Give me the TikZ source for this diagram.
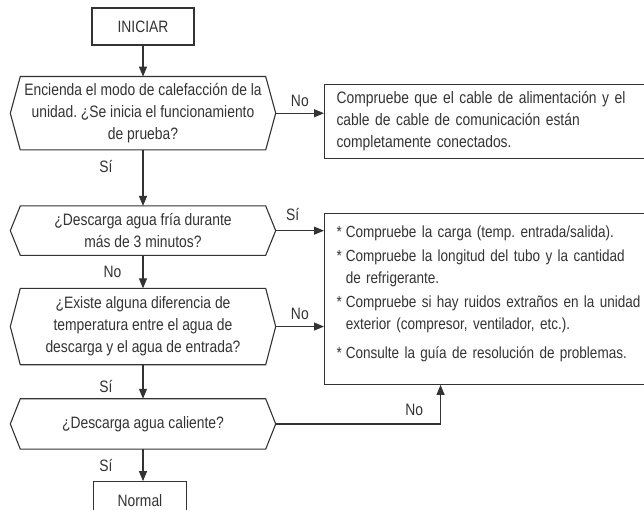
\documentclass[tikz,border=0pt]{standalone}
\usepackage{fontspec}
\setmainfont{Liberation Sans}[FakeStretch=0.84]
\usetikzlibrary{arrows.meta,positioning}
\definecolor{ink}{HTML}{333333}
\frenchspacing

\begin{document}
\begin{tikzpicture}[
    x=1pt, y=-1pt,
    font=\fontsize{16.5}{22}\selectfont,
    every node/.style={text=ink},
    term/.style={draw=ink, line width=1.1pt, minimum width=102pt, minimum height=37pt},
    query/.style={minimum width=265pt, align=center, inner sep=1pt},
    act/.style={draw=ink, line width=1.1pt, anchor=north west, text width=312pt, align=left, inner xsep=12pt},
    arrow/.style={-{Triangle[length=10pt,width=8pt]}, line width=1.1pt, draw=ink},
    lbl/.style={inner sep=2pt}
  ]
    \useasboundingbox (0,0) rectangle (644,510);
    \clip (0,0) rectangle (644,510);
    \node[term] (start) at (143,26.5) {INICIAR};
    \node[query, minimum height=73pt, below=31pt of start] (q1) {Encienda el modo de calefacción de la\\unidad. ¿Se inicia el funcionamiento\\de prueba?};
    \node[query, minimum height=49pt, below=56pt of q1] (q2) {¿Descarga agua fría durante\\más de 3 minutos?};
    \node[query, minimum height=76pt, below=33pt of q2] (q3) {¿Existe alguna diferencia de\\temperatura entre el agua de\\descarga y el agua de entrada?};
    \node[query, minimum height=50pt, below=34pt of q3] (q4) {¿Descarga agua caliente?};
    \node[term, minimum width=93pt, below=32pt of q4, xshift=-3pt] (done) {Normal};
    \foreach \q in {q1,q2,q3,q4}
      \draw[ink, line width=1.1pt] (\q.west) -- ([xshift=10pt]\q.north west) -- ([xshift=-10pt]\q.north east) -- (\q.east)
        -- ([xshift=-10pt]\q.south east) -- ([xshift=10pt]\q.south west) -- cycle;
    \node[act, minimum height=74pt] (act1) at (324,84) {Compruebe que el cable de alimentación y el\\cable de cable de comunicación están\\completamente conectados.};
    \node[act, inner ysep=8.4pt, font=\fontsize{16.1}{22}\selectfont] (act2) at (324,213) {%
      \begin{tabular}{@{}l@{\hspace{4pt}}l@{}}
        * & Compruebe la carga (temp. entrada/salida).\\[2pt]
        * & Compruebe la longitud del tubo y la cantidad\\
          & de refrigerante.\\[2pt]
        * & Compruebe si hay ruidos extraños en la unidad\\
          & exterior (compresor, ventilador, etc.).\\[7pt]
        * & Consulte la guía de resolución de problemas.\\[11pt]
      \end{tabular}};
    \draw[arrow] (start) -- (q1);
    \draw[arrow] (q1) -- node[lbl, left=28pt, pos=0.3] {Sí} (q2);
    \draw[arrow] (q2) -- node[lbl, left=19pt] {No} (q3);
    \draw[arrow] (q3) -- node[lbl, left=28pt, pos=0.65] {Sí} (q4);
    \draw[arrow] (q4.south) -- node[lbl, left=28pt] {Sí} (q4.south |- done.north);
    \draw[arrow] (q1.east) -- node[lbl, above=4pt] {No} (q1.east -| act1.west);
    \draw[arrow] (q2.east) -- node[lbl, above=7pt, pos=0.35] {Sí} (q2.east -| act2.west);
    \draw[arrow] (q3.east) -- node[lbl, above=4pt] {No} (q3.east -| act2.west);
    \draw[arrow] (q4.east) -| node[lbl, above=6pt, pos=0.42] {No} ([xshift=-52pt]act2.south);
  \end{tikzpicture}
\end{document}
